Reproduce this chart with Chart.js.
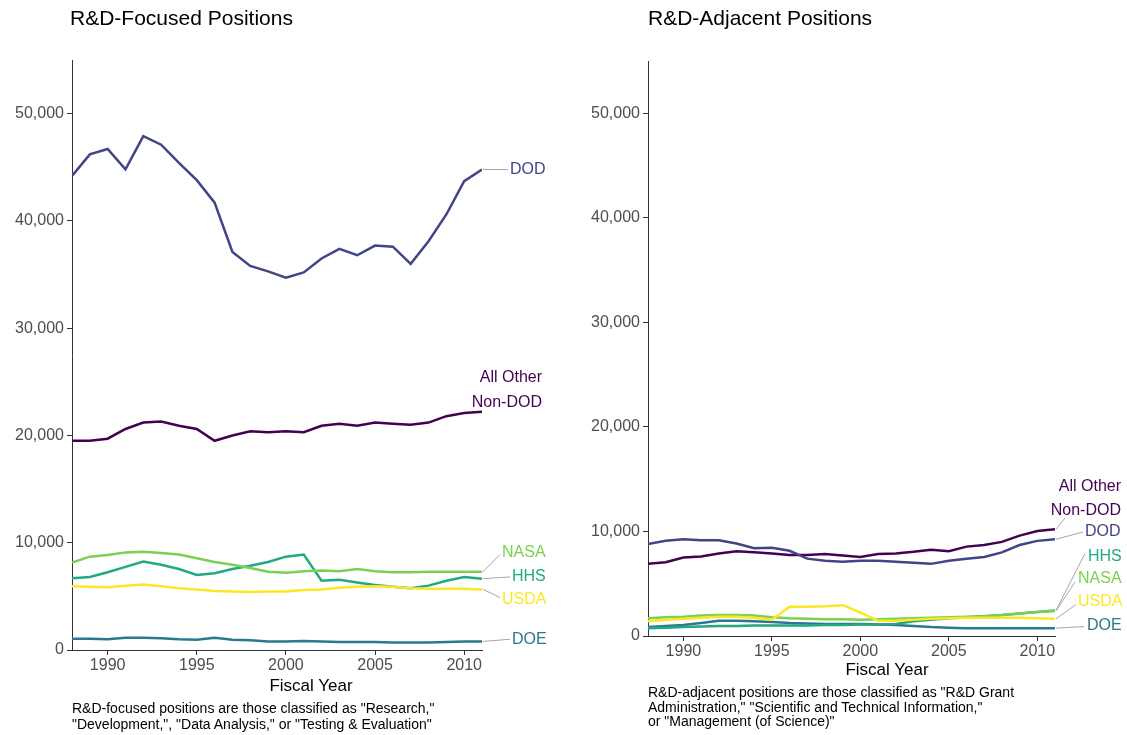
<!DOCTYPE html>
<html lang="en">
<head>
<meta charset="UTF-8">
<title>R&amp;D Positions</title>
<script src="https://cdn.jsdelivr.net/npm/chart.js"></script>
<style>
  body { margin: 0; background: #fff; font-family: "Liberation Sans", Arial, sans-serif; }
  #page { position: relative; width: 1127px; height: 735px; overflow: hidden; }
  canvas { position: absolute; top: 0; }
  .title { position: absolute; top: 6px; font-size: 21px; color: #000; white-space: nowrap; }
  .xtitle { position: absolute; font-size: 17px; line-height: 20px; color: #000; transform: translateX(-50%); white-space: nowrap; }
  .caption { position: absolute; font-size: 14px; color: #000; white-space: nowrap; }
</style>
</head>
<body>
<div id="page">
  <canvas id="focused" width="560" height="700" style="left:0"></canvas>
  <canvas id="adjacent" width="557" height="690" style="left:570px"></canvas>

  <div class="title" style="left:70px">R&amp;D-Focused Positions</div>
  <div class="title" style="left:648px">R&amp;D-Adjacent Positions</div>

  <div class="xtitle" style="left:311px; top:676px">Fiscal Year</div>
  <div class="xtitle" style="left:887px; top:660px">Fiscal Year</div>

  <div class="caption" style="left:72px; top:700px; line-height:16px">R&amp;D-focused positions are those classified as "Research,"<br>"Development,", "Data Analysis," or "Testing &amp; Evaluation"</div>
  <div class="caption" style="left:648px; top:685px; line-height:14.5px">R&amp;D-adjacent positions are those classified as "R&amp;D Grant<br>Administration," "Scientific and Technical Information,"<br>or "Management (of Science)"</div>
</div>

<script>
// fiscal years
const years = [1988, 1989, 1990, 1991, 1992, 1993, 1994, 1995, 1996, 1997, 1998, 1999,
               2000, 2001, 2002, 2003, 2004, 2005, 2006, 2007, 2008, 2009, 2010, 2011];

const agencies = ['All Other Non-DOD', 'DOD', 'DOE', 'HHS', 'NASA', 'USDA'];
const colors = ['#440154', '#414487', '#2A788E', '#22A884', '#7AD151', '#FDE725'];

// R&D-focused positions
const focusedAllOther = [19500, 19500, 19700, 20600, 21200, 21300, 20900, 20600, 19500, 20000, 20400, 20300,
                         20400, 20300, 20900, 21100, 20900, 21200, 21100, 21000, 21200, 21800, 22100, 22200];
const focusedDOD = [44200, 46200, 46700, 44800, 47900, 47100, 45400, 43800, 41700, 37100, 35800, 35300,
                    34700, 35200, 36500, 37400, 36800, 37700, 37600, 36000, 38100, 40600, 43700, 44800];
const focusedDOE = [1050, 1050, 1000, 1150, 1150, 1100, 1000, 950, 1150, 950, 900, 800,
                    800, 850, 800, 750, 750, 750, 700, 700, 700, 750, 800, 800];
const focusedHHS = [6700, 6800, 7250, 7750, 8250, 7950, 7550, 7000, 7150, 7550, 7850, 8200,
                    8700, 8900, 6450, 6550, 6300, 6050, 5900, 5750, 6000, 6450, 6800, 6650];
const focusedNASA = [8150, 8700, 8850, 9100, 9150, 9050, 8900, 8550, 8200, 7950, 7650, 7300,
                     7200, 7350, 7400, 7350, 7550, 7350, 7250, 7250, 7300, 7300, 7300, 7300];
const focusedUSDA = [5950, 5900, 5850, 6000, 6100, 5950, 5750, 5650, 5500, 5450, 5400, 5450,
                     5450, 5600, 5650, 5800, 5900, 5950, 5900, 5750, 5700, 5700, 5700, 5650];

// R&D-adjacent positions
const adjacentAllOther = [6900, 7050, 7500, 7600, 7900, 8100, 8000, 7900, 7750, 7750, 7850, 7700,
                          7550, 7850, 7900, 8050, 8250, 8100, 8550, 8700, 9000, 9600, 10050, 10200];
const adjacentDOD = [8800, 9100, 9250, 9150, 9150, 8850, 8400, 8450, 8150, 7400, 7200, 7100,
                     7200, 7200, 7100, 7000, 6900, 7200, 7400, 7550, 8000, 8700, 9100, 9250];
const adjacentDOE = [850, 950, 1050, 1250, 1450, 1450, 1400, 1350, 1250, 1200, 1150, 1150,
                     1150, 1100, 1050, 950, 850, 800, 750, 750, 750, 750, 750, 750];
const adjacentHHS = [750, 800, 850, 900, 950, 950, 1000, 1000, 1000, 1000, 1050, 1050,
                     1100, 1100, 1150, 1400, 1550, 1700, 1800, 1900, 2000, 2150, 2300, 2450];
const adjacentNASA = [1700, 1800, 1850, 1950, 2000, 2000, 1950, 1800, 1700, 1650, 1600, 1600,
                      1550, 1600, 1650, 1700, 1750, 1800, 1850, 1900, 2000, 2150, 2300, 2400];
const adjacentUSDA = [1400, 1550, 1650, 1750, 1850, 1850, 1750, 1550, 2800, 2800, 2850, 2950,
                      2250, 1450, 1450, 1550, 1650, 1700, 1750, 1750, 1750, 1750, 1700, 1650];

const yTicks = [0, 10000, 20000, 30000, 40000, 50000];
const xTicks = [1990, 1995, 2000, 2005, 2010];

// direct labels at the line ends: text lines, text y (data units), x offset from plot edge,
// optional leader end [x offset, y value]
const focusedLabels = [
  { text: ['All Other', 'Non-DOD'], y: [25350, 23100], dx: 60, align: 'right' },
  { text: ['DOD'], y: [44780], dx: 28, lead: [26, 44780] },
  { text: ['DOE'], y: [930], dx: 30, lead: [28, 1000] },
  { text: ['HHS'], y: [6810], dx: 30, lead: [28, 6810] },
  { text: ['NASA'], y: [9040], dx: 20, lead: [18, 8900] },
  { text: ['USDA'], y: [4660], dx: 20, lead: [18, 4900] }
];
const adjacentLabels = [
  { text: ['All Other', 'Non-DOD'], y: [14290, 11990], dx: 66, align: 'right', lead: [10, 11300] },
  { text: ['DOD'], y: [9950], dx: 30, lead: [28, 9950] },
  { text: ['DOE'], y: [1000], dx: 32, lead: [29, 900] },
  { text: ['HHS'], y: [7560], dx: 33, lead: [30, 7900] },
  { text: ['NASA'], y: [5520], dx: 23, lead: [20, 5150] },
  { text: ['USDA'], y: [3250], dx: 23, lead: [21, 3000] }
];

const FONT = '"Liberation Sans", Arial, sans-serif';

const endLabels = {
  id: 'endLabels',
  afterDatasetsDraw(chart, args, opts) {
    const { ctx, chartArea } = chart;
    const xs = chart.scales.x, ys = chart.scales.y;
    ctx.save();
    ctx.font = '16px ' + FONT;
    ctx.textBaseline = 'middle';
    opts.items.forEach((it, i) => {
      const ds = chart.data.datasets[i];
      const last = ds.data[ds.data.length - 1];
      const x0 = xs.getPixelForValue(last.x);
      const y0 = ys.getPixelForValue(last.y);
      if (it.lead) {
        ctx.strokeStyle = '#a6a6a6';
        ctx.lineWidth = 1;
        ctx.beginPath();
        ctx.moveTo(x0 + 1, y0);
        ctx.lineTo(chartArea.right + it.lead[0], ys.getPixelForValue(it.lead[1]));
        ctx.stroke();
      }
      ctx.fillStyle = ds.borderColor;
      ctx.textAlign = it.align || 'left';
      it.text.forEach((t, k) => ctx.fillText(t, chartArea.right + it.dx, ys.getPixelForValue(it.y[k])));
    });
    ctx.restore();
  }
};

function makeChart(id, series, labels, yWidth, xHeight, pad) {
  const datasets = series.map((vals, i) => ({
    label: agencies[i],
    data: vals.map((v, k) => ({ x: years[k], y: v })),
    borderColor: colors[i],
    backgroundColor: colors[i],
    borderWidth: 2.5,
    pointRadius: 0,
    tension: 0,
    order: series.length - i
  }));
  const axisLine = { display: true, color: '#333', width: 1 };
  const grid = { drawOnChartArea: false, drawTicks: true, tickLength: 5, color: '#333' };
  return new Chart(document.getElementById(id), {
    type: 'line',
    data: { datasets },
    plugins: [endLabels],
    options: {
      responsive: false,
      animation: false,
      layout: { padding: pad },
      plugins: {
        legend: { display: false },
        tooltip: { enabled: false },
        endLabels: { items: labels }
      },
      scales: {
        x: {
          type: 'linear',
          min: years[0],
          max: years[years.length - 1],
          border: axisLine,
          grid,
          afterBuildTicks: s => { s.ticks = xTicks.map(v => ({ value: v })); },
          afterFit: s => { s.height = xHeight; },
          ticks: { color: '#4d4d4d', padding: 1, font: { size: 16, family: FONT }, callback: v => String(v) }
        },
        y: {
          min: 0,
          max: 55000,
          border: axisLine,
          grid,
          afterBuildTicks: s => { s.ticks = yTicks.map(v => ({ value: v })); },
          afterFit: s => { s.width = yWidth; },
          ticks: { color: '#4d4d4d', padding: 3, font: { size: 16, family: FONT },
                   callback: v => v.toLocaleString('en-US') }
        }
      }
    }
  });
}

makeChart('focused',
  [focusedAllOther, focusedDOD, focusedDOE, focusedHHS, focusedNASA, focusedUSDA],
  focusedLabels, 72, 50, { top: 60, right: 78, bottom: 0, left: 0 });

makeChart('adjacent',
  [adjacentAllOther, adjacentDOD, adjacentDOE, adjacentHHS, adjacentNASA, adjacentUSDA],
  adjacentLabels, 78, 54, { top: 61, right: 72, bottom: 0, left: 0 });
</script>
</body>
</html>
